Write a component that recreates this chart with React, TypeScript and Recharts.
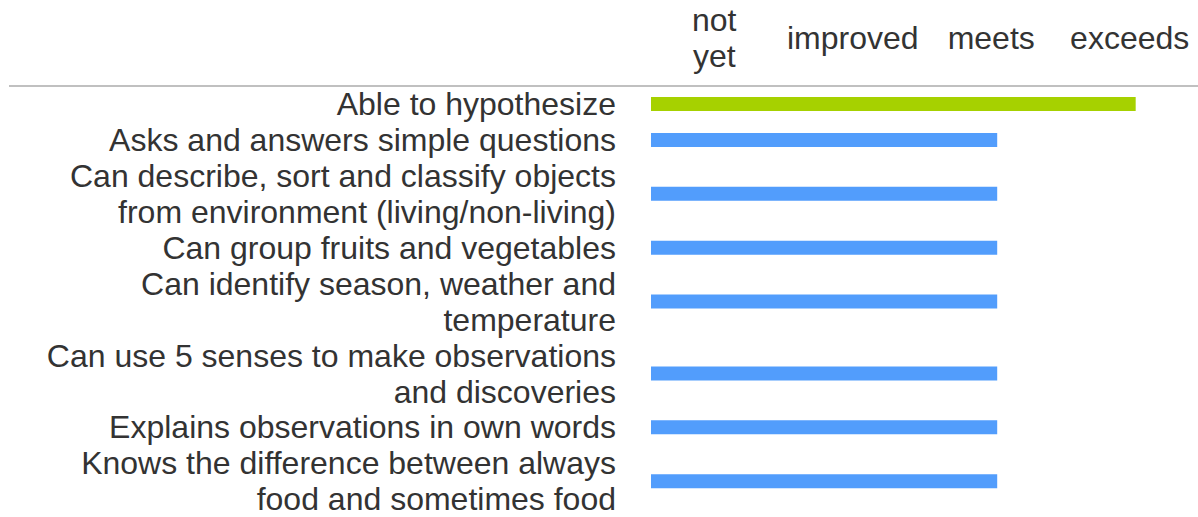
import React from "react";
import { BarChart, Bar, XAxis, YAxis, Cell, Customized } from "recharts";

// assessment criteria, one entry per row (wrapped label lines)
const criteria: string[][] = [
  ["Able to hypothesize"],
  ["Asks and answers simple questions"],
  ["Can describe, sort and classify objects", "from environment (living/non-living)"],
  ["Can group fruits and vegetables"],
  ["Can identify season, weather and", "temperature"],
  ["Can use 5 senses to make observations", "and discoveries"],
  ["Explains observations in own words"],
  ["Knows the difference between always", "food and sometimes food"],
];

// 1 = not yet, 2 = improved, 3 = meets, 4 = exceeds
const scores = [4, 3, 3, 3, 3, 3, 3, 3];

const levelValues = [1, 2, 3, 4];
const levelLabels: string[][] = [["not", "yet"], ["improved"], ["meets"], ["exceeds"]];

const levelColors: Record<number, string> = {
  1: "#529dfc",
  2: "#529dfc",
  3: "#529dfc",
  4: "#a6d100",
};

const W = 1198;
const H = 517;
const HEADER = 86;
const LABEL_W = 651;
const LINE_H = 36;
const FONT = '"Liberation Sans", Arial, sans-serif';
const FONT_SIZE = 32;
const TEXT = "#333333";

// each row is as tall as its label, so rows sit on a numeric axis
let acc = 0;
const positions = criteria.map((lines) => {
  const p = acc + lines.length / 2;
  acc += lines.length;
  return p;
});
const totalLines = acc;

const data = criteria.map((lines, i) => ({
  name: lines.join(" "),
  pos: positions[i],
  score: scores[i],
}));

function CriterionTick(props: any) {
  const { x, y, payload } = props;
  const idx = positions.indexOf(payload.value);
  const lines = idx >= 0 ? criteria[idx] : [];
  const n = lines.length;
  return (
    <g>
      {lines.map((t, k) => (
        <text
          key={k}
          x={x}
          y={y + (k - (n - 1) / 2) * LINE_H}
          dy="0.35em"
          textAnchor="end"
          fill={TEXT}
          fontSize={FONT_SIZE}
          fontFamily={FONT}
        >
          {t}
        </text>
      ))}
    </g>
  );
}

function LevelTick(props: any) {
  const { x, y, payload } = props;
  const idx = levelValues.indexOf(payload.value);
  const lines = idx >= 0 ? levelLabels[idx] : [];
  const n = lines.length;
  const mid = y - 48;
  return (
    <g>
      {lines.map((t, k) => (
        <text
          key={k}
          x={x - 6}
          y={mid + (k - (n - 1) / 2) * LINE_H}
          dy="0.35em"
          textAnchor="middle"
          fill={TEXT}
          fontSize={FONT_SIZE}
          fontFamily={FONT}
        >
          {t}
        </text>
      ))}
    </g>
  );
}

function HeaderRule() {
  return <line x1={9} x2={W} y1={HEADER} y2={HEADER} stroke="#c0c0c0" strokeWidth={2} />;
}

export default function App() {
  return (
    <div style={{ width: W, height: H }}>
      <style>{"body{margin:0;overflow:hidden}"}</style>
      <BarChart
        width={W}
        height={H}
        data={data}
        layout="vertical"
        margin={{ top: 0, right: 0, bottom: 0, left: 0 }}
      >
        <XAxis
          type="number"
          dataKey="score"
          orientation="top"
          domain={[0.5, 4.45]}
          ticks={levelValues}
          interval={0}
          height={HEADER}
          axisLine={false}
          tickLine={false}
          tickSize={0}
          tickMargin={0}
          tick={<LevelTick />}
        />
        <YAxis
          type="number"
          dataKey="pos"
          domain={[0, totalLines]}
          ticks={positions}
          interval={0}
          width={LABEL_W}
          axisLine={false}
          tickLine={false}
          tickSize={0}
          tickMargin={35}
          tick={<CriterionTick />}
        />
        <Customized component={<HeaderRule />} />
        <Bar dataKey="score" barSize={14} isAnimationActive={false}>
          {data.map((d, i) => (
            <Cell key={i} fill={levelColors[d.score]} />
          ))}
        </Bar>
      </BarChart>
    </div>
  );
}
